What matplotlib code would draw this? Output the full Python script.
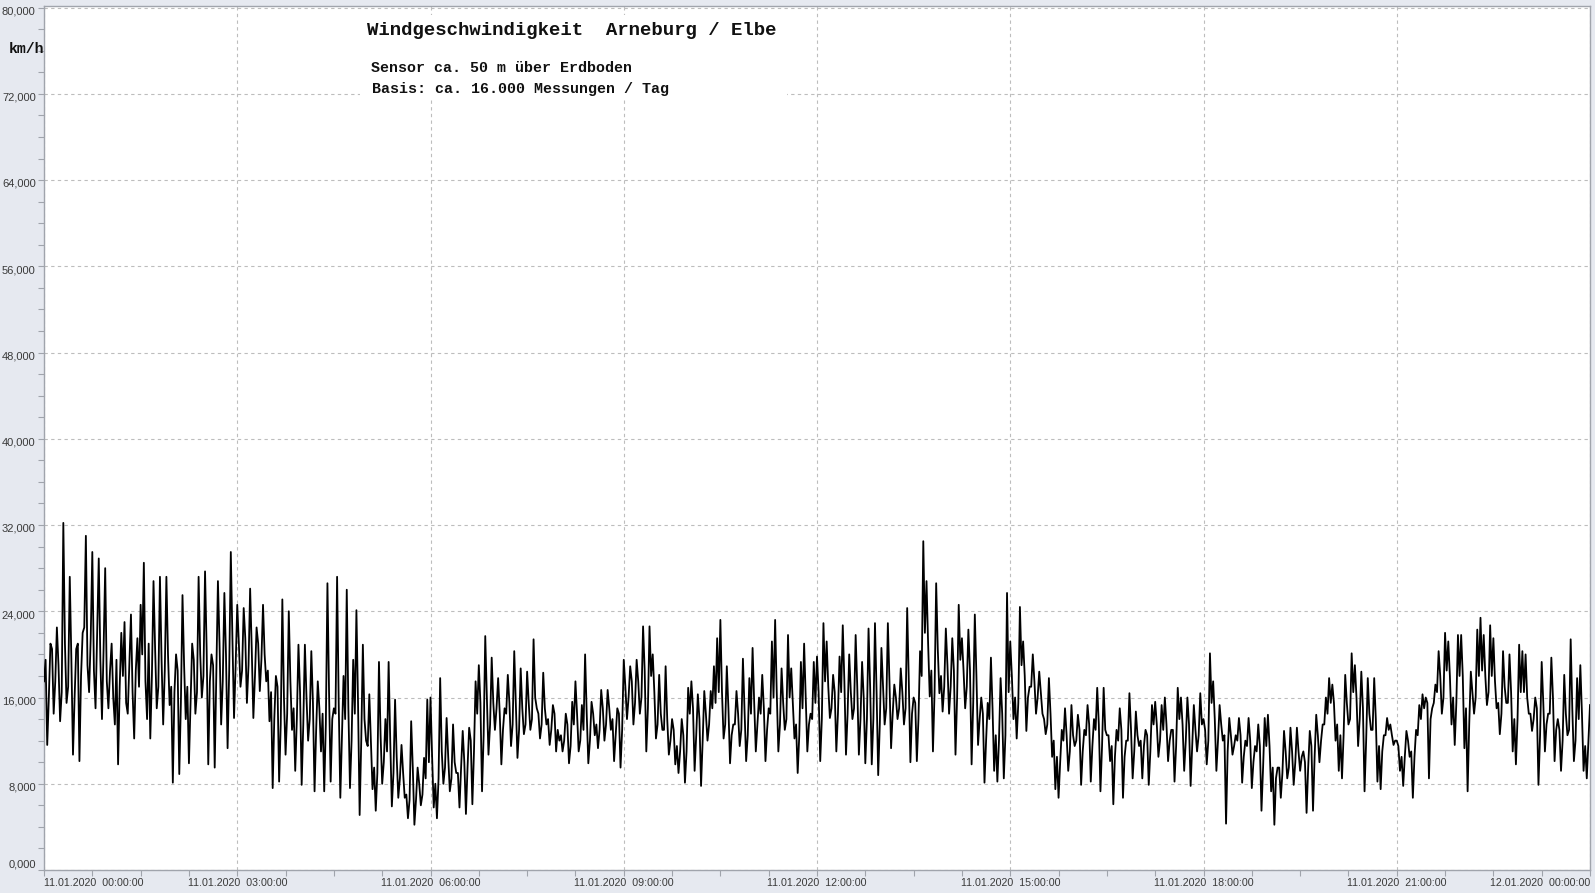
import matplotlib
matplotlib.use('Agg')

import matplotlib.pyplot as plt
import matplotlib.patches as mpatches
import matplotlib.transforms as mtransforms
from matplotlib.ticker import FuncFormatter, MultipleLocator
import numpy as np

# colours
bg = '#E6E9F0'
grid_c = '#BDBDBD'
spine_c = '#A0A4AC'
text_c = '#3A3A3A'

# wind speed in km/h, 11.01.2020 00:00 -> 12.01.2020 00:00
# peaks (every 3 minutes, alternately up/down spikes)
wind_peaks = [
    17.5, 11.6, 21.0, 14.5, 22.5, 13.8, 32.2, 15.5, 27.2, 10.7,   # 00:00
    20.5, 10.1, 22.0, 31.0, 16.5, 29.5, 15.0, 28.9, 14.0, 28.0,
    15.0, 21.0, 13.5, 9.8, 22.0, 23.0, 14.5, 23.7, 12.2, 21.5,    # 01:00
    24.6, 28.5, 14.0, 12.2, 26.8, 15.0, 27.2, 13.5, 27.2, 15.3,
    8.1, 20.0, 8.9, 25.5, 14.0, 9.9, 21.0, 14.5, 27.2, 16.0,      # 02:00
    27.7, 9.8, 20.0, 9.5, 26.8, 13.5, 25.7, 11.3, 29.5, 14.1,
    24.6, 17.0, 24.3, 15.5, 26.1, 14.1, 22.5, 16.6, 24.6, 17.5,   # 03:00
    13.8, 7.6, 18.0, 8.2, 25.1, 10.7, 24.0, 13.0, 9.2, 20.9,
    7.9, 20.9, 12.0, 20.3, 7.3, 17.5, 11.0, 7.3, 26.6, 8.2,       # 04:00
    15.0, 27.2, 6.7, 18.0, 26.0, 7.6, 19.5, 24.1, 5.1, 20.9,
    12.0, 16.3, 7.5, 5.5, 19.3, 8.0, 14.0, 19.3, 5.9, 15.8,       # 05:00
    6.7, 11.6, 6.7, 4.8, 13.8, 4.2, 9.5, 6.0, 10.4, 15.8,
    16.0, 5.8, 4.8, 17.8, 8.0, 14.1, 7.3, 13.5, 9.0, 5.8,         # 06:00
    12.9, 5.2, 13.2, 6.1, 17.5, 19.0, 7.3, 21.7, 10.7, 19.7,
    13.0, 17.8, 9.8, 15.0, 18.1, 11.5, 20.3, 10.4, 18.7, 12.6,    # 07:00
    18.4, 13.0, 21.4, 15.0, 12.2, 18.3, 13.5, 11.6, 15.3, 11.0,
    12.0, 11.0, 14.5, 9.9, 15.6, 17.5, 11.0, 15.3, 20.0, 9.9,     # 08:00
    15.6, 12.5, 11.3, 16.7, 12.0, 16.7, 13.0, 10.1, 15.0, 9.5,
    19.5, 14.0, 18.9, 13.5, 19.5, 14.5, 22.6, 11.0, 22.6, 20.0,   # 09:00
    12.2, 18.1, 13.0, 18.9, 10.7, 14.0, 9.8, 9.0, 14.0, 8.1,
    16.9, 17.5, 9.2, 16.3, 7.8, 16.6, 12.0, 16.6, 18.9, 21.5,     # 10:00
    23.2, 12.2, 18.9, 9.9, 13.5, 16.6, 11.5, 19.6, 10.1, 17.8,
    20.6, 11.0, 16.0, 18.1, 10.1, 15.0, 21.2, 23.2, 11.0, 18.7,   # 11:00
    13.0, 21.8, 18.7, 12.2, 9.0, 19.3, 21.0, 11.0, 14.5, 19.3,
    19.8, 10.1, 22.9, 21.2, 14.1, 18.1, 11.0, 19.8, 22.7, 10.7,   # 12:00
    20.0, 14.0, 21.8, 10.7, 19.3, 9.9, 22.4, 9.8, 22.9, 8.8,
    20.6, 13.5, 22.9, 11.3, 17.2, 14.0, 18.7, 13.5, 24.3, 10.0,   # 13:00
    16.0, 10.1, 20.3, 30.5, 26.8, 16.1, 11.0, 26.6, 16.4, 14.7,
    22.4, 14.5, 21.5, 10.7, 24.6, 21.5, 15.0, 22.3, 9.8, 23.7,    # 14:00
    11.6, 16.0, 8.1, 15.5, 19.7, 9.2, 8.2, 17.8, 8.5, 25.7,
    21.2, 14.0, 12.2, 24.4, 21.2, 12.9, 17.0, 20.0, 14.5, 18.4,   # 15:00
    14.5, 12.6, 17.8, 10.5, 7.5, 6.7, 13.0, 15.0, 9.2, 15.3,
    11.5, 14.4, 7.9, 13.0, 15.3, 8.2, 14.0, 16.9, 7.3, 16.9,      # 16:00
    12.5, 10.1, 6.1, 13.0, 15.0, 6.7, 12.0, 16.4, 8.5, 14.7,
    11.5, 8.5, 13.0, 7.9, 15.3, 15.6, 10.5, 15.3, 16.0, 10.1,     # 17:00
    13.0, 8.2, 16.9, 16.0, 9.2, 16.0, 7.8, 15.3, 11.0, 16.4,
    14.0, 9.8, 20.1, 17.5, 9.2, 15.3, 12.0, 4.3, 14.1, 10.7,      # 18:00
    12.5, 14.1, 8.1, 12.0, 14.1, 7.6, 11.5, 13.5, 5.5, 14.1,
    14.4, 7.3, 4.2, 9.5, 6.7, 12.9, 8.5, 13.2, 7.9, 13.2,         # 19:00
    9.2, 11.0, 5.3, 12.9, 5.5, 14.4, 10.0, 13.5, 16.0, 17.8,
    17.2, 12.0, 9.2, 8.5, 18.1, 13.5, 20.1, 19.0, 11.5, 18.4,     # 20:00
    7.3, 17.8, 13.0, 17.8, 8.2, 7.5, 12.5, 14.1, 13.5, 11.6,
    12.0, 9.2, 7.8, 12.9, 10.5, 6.7, 13.0, 15.3, 16.3, 16.0,      # 21:00
    8.5, 15.0, 17.2, 20.3, 14.5, 22.0, 21.2, 13.5, 11.6, 21.8,
    21.8, 11.3, 7.3, 18.4, 14.5, 22.3, 23.4, 21.8, 15.3, 22.7,    # 22:00
    21.5, 15.0, 12.6, 20.3, 15.5, 20.0, 11.0, 9.8, 20.9, 20.3,
    20.0, 14.5, 12.9, 16.0, 7.9, 19.3, 11.0, 14.5, 19.7, 10.1,    # 23:00
    14.0, 9.2, 18.1, 12.5, 21.4, 10.1, 17.8, 19.0, 9.2, 8.5,
    15.3,                                                         # 24:00
]
# dense core of the band, values between two peaks
wind_core = [
    19.5, 16.0, 20.5, 17.5, 19.0, 16.5, 21.0, 17.0, 19.5, 16.0,   # 00:00
    21.0, 18.0, 22.5, 19.0, 21.5, 18.5, 22.0, 19.5, 20.5, 17.5,
    18.5, 16.0, 19.5, 17.0, 18.0, 15.5, 19.0, 16.5, 18.5, 17.0,   # 01:00
    20.0, 17.5, 21.0, 18.0, 20.5, 17.0, 19.5, 18.5, 20.0, 17.0,
    16.5, 18.5, 15.5, 19.0, 17.0, 15.5, 19.5, 16.5, 20.0, 18.0,   # 02:00
    20.5, 17.5, 19.0, 18.0, 21.0, 17.5, 20.0, 18.5, 21.5, 19.0,
    21.0, 18.5, 21.5, 19.0, 20.5, 18.0, 21.0, 19.5, 20.0, 18.5,   # 03:00
    16.5, 14.0, 17.0, 13.5, 16.0, 14.5, 17.5, 15.0, 14.0, 16.5,
    13.5, 16.0, 14.0, 15.5, 13.0, 15.0, 14.5, 13.5, 16.5, 14.0,   # 04:00
    14.5, 15.5, 12.5, 14.0, 15.0, 12.0, 14.5, 15.5, 12.0, 14.0,
    11.5, 12.0, 9.5, 9.0, 12.5, 10.0, 11.0, 12.0, 9.0, 10.5,      # 05:00
    8.5, 9.0, 7.0, 6.5, 9.5, 6.5, 8.0, 7.0, 8.5, 10.0,
    10.5, 8.0, 8.5, 11.0, 9.5, 10.5, 8.5, 10.0, 9.0, 9.5,         # 06:00
    10.0, 9.5, 12.0, 11.0, 14.5, 15.5, 12.5, 16.0, 13.5, 15.5,
    15.0, 14.5, 13.0, 14.5, 15.5, 13.5, 15.5, 13.0, 15.0, 13.5,   # 07:00
    15.5, 14.0, 16.0, 14.5, 13.5, 15.0, 14.0, 13.0, 14.5, 13.0,
    12.5, 12.0, 13.5, 11.5, 13.5, 14.5, 12.0, 13.0, 14.5, 12.0,   # 08:00
    14.5, 13.5, 13.0, 15.0, 13.5, 15.0, 14.0, 12.5, 14.5, 13.0,
    17.0, 16.0, 17.5, 15.5, 17.5, 16.0, 18.5, 15.0, 18.0, 16.5,   # 09:00
    13.5, 14.5, 13.0, 14.0, 12.0, 13.0, 11.5, 11.0, 12.5, 11.0,
    14.5, 15.0, 12.5, 14.0, 12.0, 14.5, 13.5, 15.0, 15.5, 16.5,   # 10:00
    16.5, 13.5, 15.0, 12.5, 13.5, 14.5, 13.0, 15.0, 12.5, 14.5,
    15.5, 13.5, 14.5, 15.0, 13.0, 14.5, 16.0, 16.5, 13.5, 15.5,   # 11:00
    14.0, 16.0, 15.5, 13.5, 12.5, 15.0, 16.0, 13.5, 14.0, 15.5,
    16.5, 14.0, 17.5, 17.0, 15.0, 16.5, 14.5, 16.5, 17.5, 14.5,   # 12:00
    16.5, 15.0, 17.0, 14.0, 16.0, 14.0, 17.0, 14.0, 16.5, 13.5,
    17.0, 15.0, 17.5, 14.5, 16.0, 15.0, 16.5, 15.0, 17.5, 14.5,   # 13:00
    15.5, 14.0, 18.0, 22.0, 21.0, 18.5, 16.5, 20.5, 18.0, 17.0,
    19.0, 17.0, 18.5, 16.0, 19.5, 18.5, 17.0, 18.5, 15.5, 18.0,   # 14:00
    14.0, 14.5, 12.0, 14.0, 15.0, 12.5, 12.0, 14.5, 12.5, 16.5,
    18.0, 16.0, 15.5, 19.0, 18.0, 16.0, 17.0, 17.5, 16.0, 16.5,   # 15:00
    14.0, 13.5, 14.5, 12.0, 10.5, 10.0, 12.0, 12.5, 11.0, 12.5,
    12.0, 13.0, 11.0, 12.5, 13.5, 11.5, 13.0, 13.5, 11.5, 13.0,   # 16:00
    12.5, 11.5, 10.5, 12.0, 13.0, 10.5, 12.0, 13.0, 11.0, 12.5,
    12.0, 11.5, 12.5, 11.0, 13.5, 13.5, 12.0, 13.0, 13.5, 12.0,   # 17:00
    13.0, 11.5, 14.0, 13.5, 12.0, 13.5, 11.5, 13.0, 12.5, 13.5,
    13.0, 12.0, 15.5, 14.0, 12.0, 13.5, 12.5, 11.0, 12.5, 11.5,   # 18:00
    12.0, 12.5, 10.5, 11.5, 12.0, 10.0, 11.0, 11.5, 9.5, 11.5,
    11.5, 9.5, 8.5, 9.5, 9.0, 11.0, 9.5, 11.0, 10.0, 11.0,        # 19:00
    10.5, 10.0, 9.5, 11.5, 10.5, 12.5, 12.0, 13.5, 14.5, 15.5,
    15.5, 13.5, 12.5, 12.5, 15.5, 14.0, 16.5, 16.0, 14.0, 15.0,   # 20:00
    12.0, 14.5, 13.0, 14.0, 11.5, 11.0, 12.5, 13.0, 12.5, 12.0,
    11.5, 10.5, 10.5, 12.0, 11.0, 10.5, 12.5, 14.0, 15.0, 15.5,   # 21:00
    14.0, 15.5, 16.5, 18.0, 16.0, 18.5, 18.0, 16.0, 15.5, 18.0,
    18.0, 15.0, 13.5, 16.5, 16.0, 18.0, 18.5, 18.0, 16.5, 18.0,   # 22:00
    17.5, 15.5, 14.5, 17.0, 15.5, 16.5, 14.0, 14.0, 16.5, 16.5,
    16.0, 14.5, 14.0, 15.0, 12.5, 15.5, 13.5, 14.5, 16.0, 13.0,   # 23:00
    13.0, 12.0, 14.5, 13.0, 15.0, 12.0, 14.0, 14.5, 11.5, 12.0,
]

# peak, core, peak, core, ... in time order
wind_kmh = np.empty(len(wind_peaks) + len(wind_core))
wind_kmh[0::2] = wind_peaks
wind_kmh[1::2] = wind_core
time_h = np.linspace(0, 24, len(wind_kmh))

tick_hours = [0, 3, 6, 9, 12, 15, 18, 21, 24]
tick_labels = ['11.01.2020  00:00:00', '11.01.2020  03:00:00', '11.01.2020  06:00:00',
               '11.01.2020  09:00:00', '11.01.2020  12:00:00', '11.01.2020  15:00:00',
               '11.01.2020  18:00:00', '11.01.2020  21:00:00', '12.01.2020  00:00:00']
y_ticks = [0, 8, 16, 24, 32, 40, 48, 56, 64, 72, 80]

title = 'Windgeschwindigkeit  Arneburg / Elbe'
sub1 = 'Sensor ca. 50 m über Erdboden'
sub2 = 'Basis: ca. 16.000 Messungen / Tag'

W, H = 1595, 893
fig = plt.figure(figsize=[W / 100., H / 100.], dpi=100, facecolor=bg)
ax = fig.add_axes([44. / W, 1 - 870. / H, 1546. / W, 864. / H])
ax.set_facecolor('white')

ax.plot(time_h, wind_kmh, color='black', lw=1.3, zorder=3)

ax.set_xlim(0, 24)
ax.set_ylim(0, 80.15)

ax.xaxis.set_minor_locator(MultipleLocator(0.75))
ax.set_yticks(y_ticks)
ax.yaxis.set_minor_locator(MultipleLocator(2))
ax.yaxis.set_major_formatter(FuncFormatter(lambda v, p: ('%.3f' % v).replace('.', ',')))

ax.set_xticks(tick_hours)
ax.set_xticklabels(tick_labels, fontsize=7.7, color=text_c, family='Liberation Sans')
lbls = ax.get_xticklabels()
lbls[0].set_horizontalalignment('left')
lbls[-1].set_horizontalalignment('right')

ax.tick_params(axis='both', which='both', color=spine_c, length=4, width=0.8, direction='out')
ax.tick_params(axis='x', which='major', pad=2)
ax.tick_params(axis='y', which='major', pad=2, labelsize=8, labelcolor=text_c)

fig.canvas.draw()
down = mtransforms.ScaledTranslation(0, -2 / 72., fig.dpi_scale_trans)
up = mtransforms.ScaledTranslation(0, 4.5 / 72., fig.dpi_scale_trans)
for lab in ax.get_yticklabels():
    lab.set_family('Liberation Sans')
    if lab.get_text() == '0,000':
        # the 0,000 label sits a little above the bottom edge
        lab.set_transform(lab.get_transform() + up)
    else:
        lab.set_transform(lab.get_transform() + down)

ax.grid(True, which='major', color=grid_c, linestyle=(0, (3, 3)), lw=0.8, zorder=0)
ax.set_axisbelow(True)
for s in ax.spines.values():
    s.set_color(spine_c)
    s.set_linewidth(1.0)

# white box behind the title texts
ax.add_patch(mpatches.Rectangle((0.2044, 0.8935), 0.2762, 0.096, transform=ax.transAxes,
                                facecolor='white', edgecolor='none', zorder=2))

fig.text(367. / W, 1 - 30.5 / H, title, family='Liberation Mono', fontsize=13.7,
         fontweight='bold', va='center', ha='left', color='#111111')
fig.text(371. / W, 1 - 68. / H, sub1, family='Liberation Mono', fontsize=10.8,
         fontweight='bold', va='center', ha='left', color='#111111')
fig.text(372. / W, 1 - 89.5 / H, sub2, family='Liberation Mono', fontsize=10.8,
         fontweight='bold', va='center', ha='left', color='#111111')
fig.text(9. / W, 1 - 49. / H, 'km/h', family='Liberation Mono', fontsize=10.7,
         fontweight='bold', va='center', ha='left', color='#111111')

fig.savefig('out.png', dpi=100, facecolor=bg)
